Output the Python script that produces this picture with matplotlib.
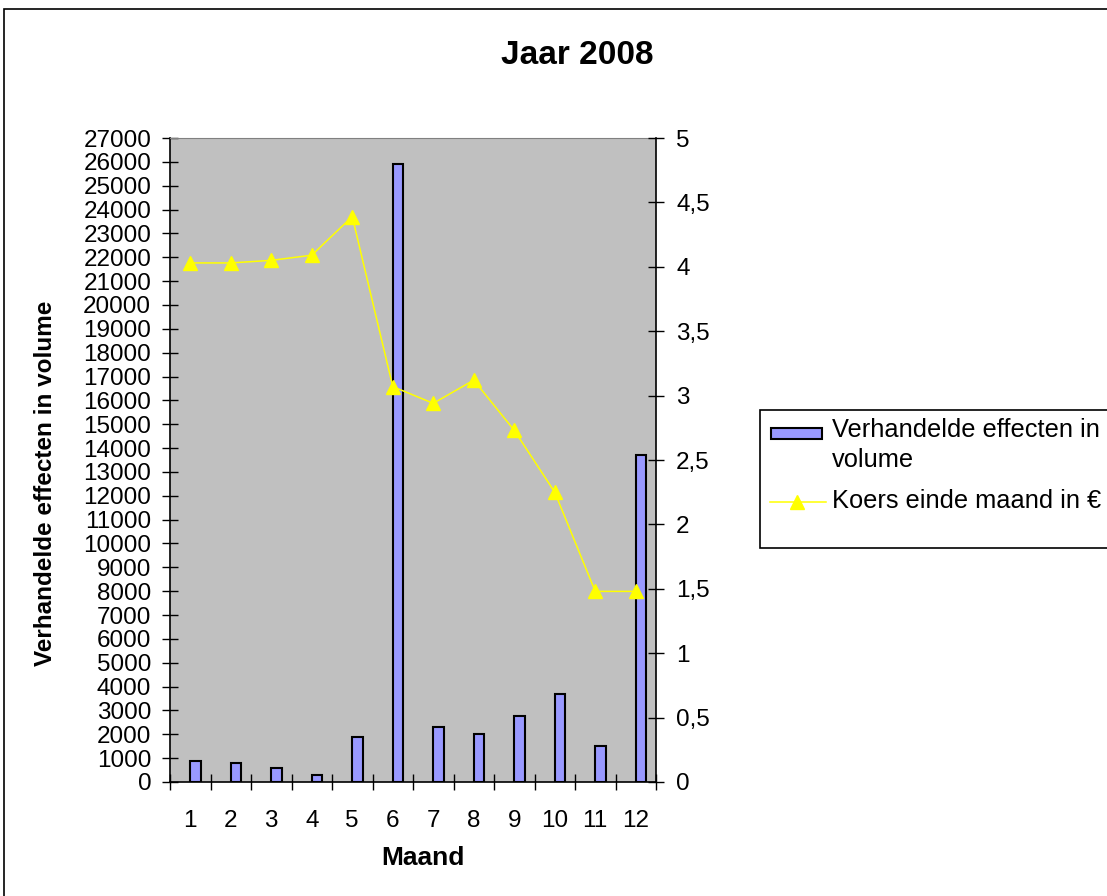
import matplotlib
matplotlib.use("Agg")
import matplotlib.pyplot as plt
from matplotlib.patches import Rectangle
from matplotlib.lines import Line2D
import numpy as np

plt.rcParams['font.family'] = ['Liberation Sans', 'DejaVu Sans']

months = [1, 2, 3, 4, 5, 6, 7, 8, 9, 10, 11, 12]
volume = [900, 800, 600, 300, 1900, 25900, 2300, 2000, 2750, 3700, 1500, 13700]
koers = [4.03, 4.03, 4.05, 4.09, 4.39, 3.07, 2.94, 3.12, 2.73, 2.25, 1.48, 1.48]
left_ticks = list(range(0, 27001, 1000))
right_ticks = [0, 0.5, 1, 1.5, 2, 2.5, 3, 3.5, 4, 4.5, 5]
right_labels = ['0', '0,5', '1', '1,5', '2', '2,5', '3', '3,5', '4', '4,5', '5']
series_names = ['Verhandelde effecten in volume', 'Koers einde maand in €']

W, H = 1107, 896
fig = plt.figure(figsize=(W / 100, H / 100), dpi=100)
fig.patch.set_facecolor('white')

def fx(px):
    return px / W

def fy(py):
    return 1 - py / H

# outer border
fig.patches.append(Rectangle((fx(4), -0.01), 1.05, fy(9) + 0.01, transform=fig.transFigure,
                             fill=False, edgecolor='black', linewidth=1.2, clip_on=False))

ax = fig.add_axes([fx(170), fy(782), (656 - 170) / W, (782 - 138) / H])
ax.set_facecolor('#C0C0C0')
x = np.array(months, dtype=float)
ax.bar(x + 0.13, volume, width=0.27, color='#9999FF', edgecolor='black', linewidth=1.5, zorder=2)
ax.set_xlim(0.5, 12.5)
ax.set_ylim(0, 27000)
ax.set_yticks(left_ticks)
ax.set_yticklabels([str(v) for v in left_ticks], fontsize=17.5)
ax.set_xticks(np.arange(0.5, 12.6, 1.0))
ax.set_xticklabels([])
ax.set_xticks(x, minor=True)
ax.set_xticklabels([str(m) for m in months], minor=True, fontsize=17.5)
ax.tick_params(axis='x', which='minor', length=0, pad=20)
ax.tick_params(axis='x', which='major', direction='inout', length=11, width=1)
ax.tick_params(axis='y', direction='inout', length=11, width=1, pad=8)
ax.spines['top'].set_color('#808080')
ax.spines['right'].set_visible(False)
ax.spines['left'].set_linewidth(1.2)
ax.spines['bottom'].set_linewidth(1.2)

ax2 = ax.twinx()
ax2.plot(x, koers, color='#FFFF00', linewidth=1.1, marker='^', markersize=10,
         markerfacecolor='#FFFF00', markeredgecolor='#FFFF00')
ax2.set_ylim(0, 5)
ax2.set_yticks(right_ticks)
ax2.set_yticklabels(right_labels, fontsize=17.5)
ax2.tick_params(axis='y', direction='inout', length=11, width=1, pad=9)
ax2.spines['right'].set_linewidth(1.2)
ax2.spines['top'].set_visible(False)
ax2.spines['left'].set_visible(False)
ax2.spines['bottom'].set_visible(False)

fig.text(fx(577), fy(55), 'Jaar 2008', fontsize=24, fontweight='bold', ha='center', va='center')
fig.text(fx(423), fy(858), 'Maand', fontsize=19, fontweight='bold', ha='center', va='center')
fig.text(fx(46), fy(483), 'Verhandelde effecten in volume', fontsize=17.5, fontweight='bold',
         ha='center', va='center', rotation=90)

# legend (drawn manually to match layout)
fig.patches.append(Rectangle((fx(760), fy(548)), 0.4, (548 - 410) / H, transform=fig.transFigure,
                             fill=True, facecolor='white', edgecolor='black', linewidth=1.2, clip_on=False))
fig.patches.append(Rectangle((fx(771), fy(439)), (822 - 771) / W, 11 / H, transform=fig.transFigure,
                             facecolor='#9999FF', edgecolor='black', linewidth=1.5))
fig.lines.append(Line2D([fx(770), fx(826)], [fy(502), fy(502)], transform=fig.transFigure,
                        color='#FFFF00', linewidth=1.1))
fig.lines.append(Line2D([fx(797)], [fy(502)], transform=fig.transFigure, marker='^', markersize=10,
                        color='#FFFF00', linestyle='none'))
name_words = series_names[0].rsplit(' ', 1)
fig.text(fx(832), fy(437), name_words[0], fontsize=18.3, ha='left', va='baseline')
fig.text(fx(832), fy(467), name_words[1], fontsize=18.3, ha='left', va='baseline')
fig.text(fx(832), fy(508), series_names[1], fontsize=18.3, ha='left', va='baseline')

fig.savefig('out.png', dpi=100)
